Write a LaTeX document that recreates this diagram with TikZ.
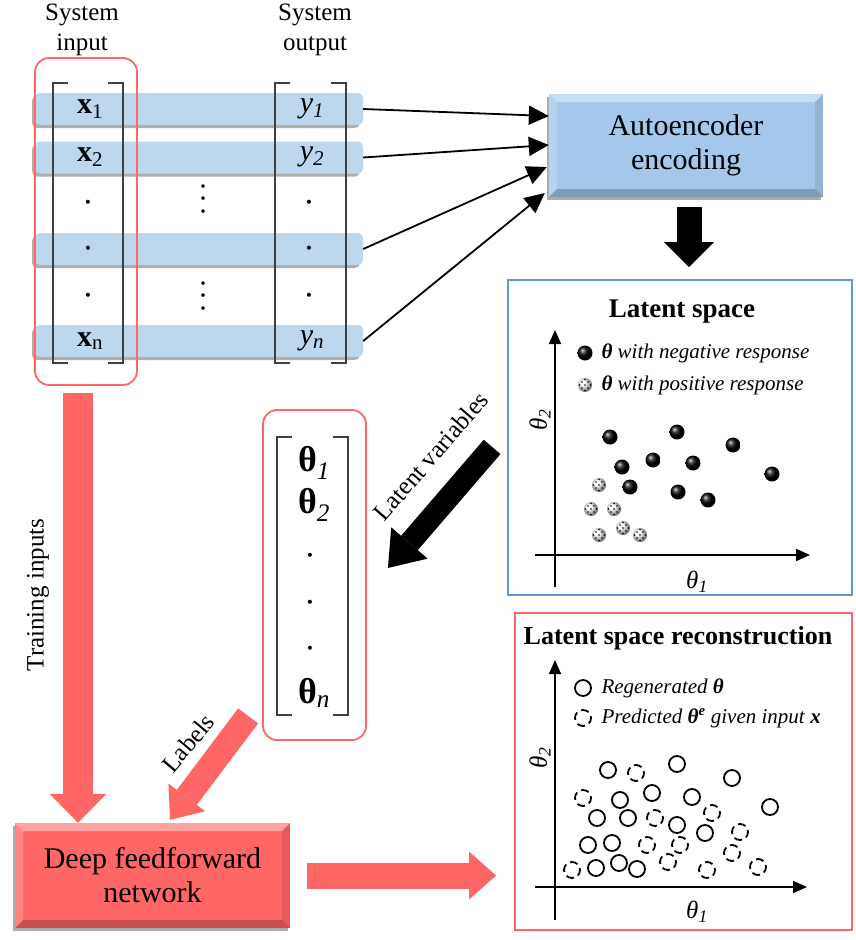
\documentclass[tikz,border=0pt]{standalone}
\usepackage{fontspec}
\setmainfont{Liberation Serif}
\usetikzlibrary{arrows.meta,positioning,shadows}
\definecolor{BarBlue}{HTML}{BDD7EE}
\definecolor{EncBlue}{HTML}{A3C8EC}
\definecolor{FrameBlue}{HTML}{5B9BD5}
\definecolor{NetRed}{HTML}{FF6666}
\newcommand\fsBig{\fontsize{30}{34}\selectfont}
\newcommand\fsLab{\fontsize{25}{30}\selectfont}
\newcommand\fsLeg{\fontsize{21}{25}\selectfont}
\newcommand\fsVec{\fontsize{36}{40}\selectfont}

\begin{document}
\begin{tikzpicture}[x=1pt, y=-1pt,
  bar/.style={fill=BarBlue, rounded corners=5pt, minimum width=328pt, minimum height=32pt,
    drop shadow={shadow xshift=-3pt, shadow yshift=-3pt, opacity=.45, fill=black!70}},
  vecbox/.style={draw=NetRed, line width=1.8pt, rounded corners=14pt},
  brk/.style={draw=black!75, line width=1.3pt},
  dotentry/.style={font=\fontsize{34}{34}\selectfont, inner sep=0pt},
  vdotentry/.style={font=\fontsize{30}{11}\selectfont, align=center, inner sep=0pt},
  bevel/.style={path picture={
    \coordinate (nw) at (path picture bounding box.north west);
    \coordinate (ne) at (path picture bounding box.north east);
    \coordinate (sw) at (path picture bounding box.south west);
    \coordinate (se) at (path picture bounding box.south east);
    \fill[white, opacity=.4] (nw) -- (ne) -- ([shift={(-8pt,-8pt)}]ne) -- ([shift={(8pt,-8pt)}]nw) -- cycle;
    \fill[white, opacity=.2] (nw) -- ([shift={(8pt,-8pt)}]nw) -- ([shift={(8pt,8pt)}]sw) -- (sw) -- cycle;
    \fill[black, opacity=.1] (ne) -- ([shift={(-8pt,-8pt)}]ne) -- ([shift={(-8pt,8pt)}]se) -- (se) -- cycle;
    \fill[black, opacity=.22] (sw) -- ([shift={(8pt,8pt)}]sw) -- ([shift={(-8pt,8pt)}]se) -- (se) -- cycle;
  }},
  blockbox/.style={bevel, align=center, font=\fsBig,
    drop shadow={shadow xshift=-2pt, shadow yshift=-3pt, opacity=.4, fill=black!80}},
  conn/.style={line width=1.8pt, -{Triangle[length=20pt,width=19pt]}},
  fatred/.style={draw=NetRed, line width=30pt, -{Triangle[length=29pt,width=57pt,line width=0pt]}},
  fatblack/.style={draw=black, line width=25pt, -{Triangle[length=25pt,width=50pt,line width=0pt]}},
  axis/.style={line width=1.6pt, -{Triangle[length=14pt,width=12pt]}},
  ring/.style={line width=1.8pt},
  dashring/.style={ring, dash pattern=on 8pt off 4.5pt, dash phase=2pt},
  posball/.style={ball color=white}
]
  \useasboundingbox (0,0) rectangle (856,940);

  % system input / output
  \node[font=\fsLab, align=center] (inlab) at (82,30) {System\\input};
  \node[font=\fsLab, align=center] (outlab) at (315,30) {System\\output};

  \node[bar] (bar1) at (199,109) {};
  \node[bar] (bar2) at (199,157.5) {};
  \node[bar] (bar3) at (199,249) {};
  \node[bar] (barn) at (199,341) {};

  \node[vecbox, minimum width=102pt, minimum height=327pt] (inbox) at (86,221.5) {};

  \draw[brk] (68,83) -- (53,83) -- (53,363) -- (68,363);
  \draw[brk] (108,83) -- (123,83) -- (123,363) -- (108,363);
  \draw[brk] (290,83) -- (275,83) -- (275,363) -- (290,363);
  \draw[brk] (331,83) -- (346,83) -- (346,363) -- (331,363);

  \node[font=\fsBig] (x1) at (90,109) {\textbf{x}\textsubscript{1}};
  \node[font=\fsBig] (x2) at (90,157) {\textbf{x}\textsubscript{2}};
  \node[dotentry] (xd1) at (88,207) {·};
  \node[dotentry] (xd2) at (88,253) {·};
  \node[dotentry] (xd3) at (88,300) {·};
  \node[font=\fsBig] (xn) at (90,341) {\textbf{x}\textsubscript{n}};

  \node[vdotentry] (vd1) at (203,203) {·\\·\\·};
  \node[vdotentry] (vd2) at (203,300) {·\\·\\·};

  \node[font=\fsBig] (y1) at (312,109) {\textit{y}\textsubscript{\textit{1}}};
  \node[font=\fsBig] (y2) at (312,157) {\textit{y}\textsubscript{\textit{2}}};
  \node[dotentry] (yd1) at (309,207) {·};
  \node[dotentry] (yd2) at (309,253) {·};
  \node[dotentry] (yd3) at (309,300) {·};
  \node[font=\fsBig] (yn) at (312,341) {\textit{y}\textsubscript{\textit{n}}};

  % encoder
  \node[blockbox, fill=EncBlue, minimum width=274pt, minimum height=103pt] (ae) at (686,145.5) {Autoencoder\\encoding};

  \draw[conn] (bar1.east) -- ([yshift=29.5pt]ae.west);
  \draw[conn] (bar2.east) -- ([yshift=0.5pt]ae.west);
  \draw[conn] (bar3.east) -- ([shift={(-2pt,-21.5pt)}]ae.west);
  \draw[conn] (barn.east) -- ([shift={(-4pt,-47.5pt)}]ae.west);

  % latent space
  \node[draw=FrameBlue, line width=1.8pt, minimum width=344pt, minimum height=315pt] (latent) at (680,437.5) {};
  \node[font=\bfseries\fontsize{27}{30}\selectfont] (lattitle) at (682,312) {Latent space};
  \draw[axis] (555,587) -- (555,330);
  \draw[axis] (535,555) -- (810,555);
  \node[font=\fsLab, rotate=90] (lat2) at (540,420) {\textit{θ}\textsubscript{\textit{2}}};
  \node[font=\fsLab] (lat1) at (697,582) {\textit{θ}\textsubscript{\textit{1}}};

  \shade[ball color=black] (585,353) circle (7.5);
  \node[font=\fsLeg, anchor=west] (legneg) at (598,353) {\textbf{\textit{θ}} \textit{with negative response}};
  \foreach \p in {(585,385),(599,485),(591,509),(614,509),(599,535),(623,528),(640,535)} {
    \shade[posball] \p circle (7);
    \foreach \dx/\dy in {-3/-3,3/-3,-3/3,3/3,0/0,0/-5.5,0/5.5,-5.5/0,5.5/0}
      \fill \p ++(\dx,\dy) circle (0.8);
  }
  \node[font=\fsLeg, anchor=west] (legpos) at (598,385) {\textbf{\textit{θ}} \textit{with positive response}};

  \foreach \p in {(610,437),(677,432),(733,445),(653,460),(693,463),(622,467),(772,474),(630,487),(678,492),(708,500)}
    \shade[ball color=black] \p circle (7.5);

  \draw[fatblack, shorten <=10pt, shorten >=12pt] ([xshift=3pt]ae.south) -- ([xshift=3pt]ae.south |- latent.north);

  % latent variables
  \node[vecbox, fill=white, minimum width=103pt, minimum height=330pt] (thetabox) at (314.5,575) {};
  \draw[brk] (292,437) -- (277,437) -- (277,715) -- (292,715);
  \draw[brk] (333,437) -- (348,437) -- (348,715) -- (333,715);
  \node[font=\fsVec] (t1) at (314,463) {\textbf{θ}\textsubscript{\textit{1}}};
  \node[font=\fsVec] (t2) at (314,505) {\textbf{θ}\textsubscript{\textit{2}}};
  \node[dotentry] (td1) at (310,560) {·};
  \node[dotentry] (td2) at (310,607) {·};
  \node[dotentry] (td3) at (310,653) {·};
  \node[font=\fsVec] (tn) at (314,693) {\textbf{θ}\textsubscript{\textit{n}}};

  \draw[fatblack, line width=22pt, -{Triangle[length=33pt,width=48pt,line width=0pt]}, shorten <=23pt]
    ([yshift=8pt]latent.west) -- ([shift={(21pt,7pt)}]thetabox.east);
  \node[font=\fsLab, rotate=49] (lvlab) at (431,456) {Latent variables};

  % network
  \node[blockbox, fill=NetRed, minimum width=275pt, minimum height=105pt] (dnn) at (152.5,875.5) {Deep feedforward\\network};

  \draw[fatred] ([shift={(-8pt,-7pt)}]inbox.south) -- ([xshift=-74.5pt]dnn.north);
  \node[font=\fsLab, rotate=90] (trlab) at (38,595) {Training inputs};

  \draw[fatred, line width=25pt, -{Triangle[length=28pt,width=46pt,line width=0pt]}]
    ([shift={(-14pt,25pt)}]thetabox.south west) -- ([shift={(17.5pt,3pt)}]dnn.north);
  \node[font=\fsLab, rotate=50] (lablab) at (188,743) {Labels};

  % reconstruction
  \node[draw=NetRed, line width=1.8pt, minimum width=337pt, minimum height=317pt] (recon) at (683.5,771.5) {};
  \node[font=\bfseries\fontsize{26}{30}\selectfont] (rectitle) at (678,638) {Latent space reconstruction};
  \draw[axis] (555,920) -- (555,660);
  \draw[axis] (535,887) -- (807,887);
  \node[font=\fsLab, rotate=90] (rec2) at (540,758) {\textit{θ}\textsubscript{\textit{2}}};
  \node[font=\fsLab] (rec1) at (697,912) {\textit{θ}\textsubscript{\textit{1}}};

  \draw[ring] (583,688) circle (8);
  \node[font=\fsLeg, anchor=west] (legreg) at (598,688) {\textit{Regenerated} \textbf{\textit{θ}}};
  \draw[dashring] (583,718) circle (8);
  \node[font=\fsLeg, anchor=west] (legpred) at (598,718) {\textit{Predicted} \textbf{\textit{θ\textsuperscript{e}}} \textit{given input} \textbf{\textit{x}}};

  \foreach \p in {(608,770),(677,764),(732,778),(652,793),(692,797),(620,800),(770,807),(597,818),
                  (628,818),(677,825),(705,833),(588,845),(612,843),(619,863),(596,868),(637,869)}
    \draw[ring] \p circle (8);
  \foreach \p in {(636,773),(583,798),(712,813),(655,818),(740,832),(647,845),(680,845),(732,853),
                  (668,862),(572,870),(707,870),(758,867)}
    \draw[dashring] \p circle (8);

  \draw[fatred, line width=26pt, -{Triangle[length=27pt,width=48pt,line width=0pt]}, shorten <=17pt, shorten >=18pt]
    (dnn.east) -- (dnn.east -| recon.west);
\end{tikzpicture}
\end{document}
